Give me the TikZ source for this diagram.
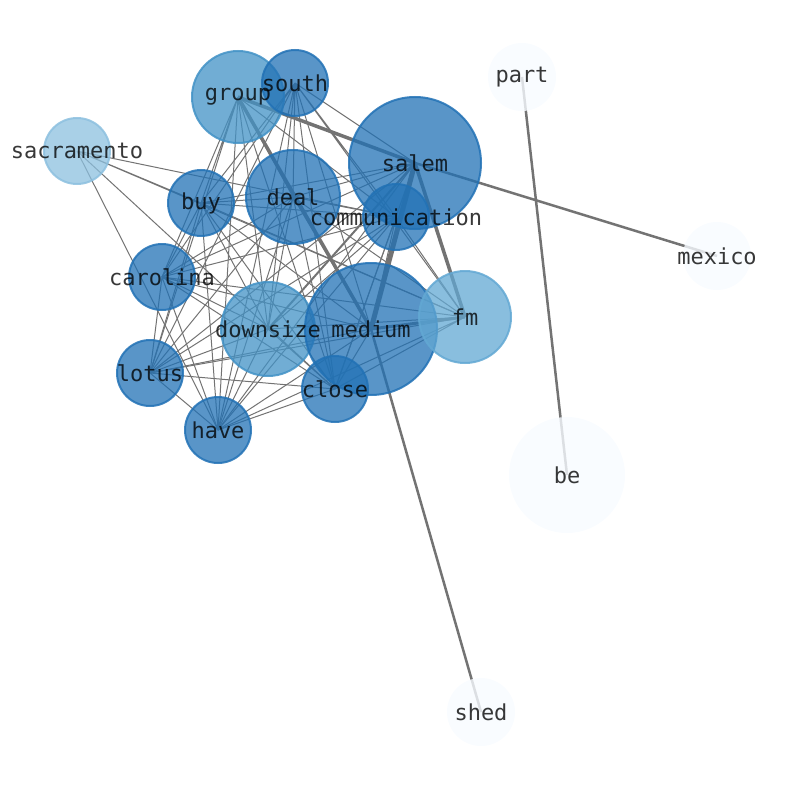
\documentclass[tikz,border=0pt]{standalone}
\usepackage{fontspec}
\setmonofont{DejaVu Sans Mono}
\definecolor{blueA}{HTML}{2171B5}
\definecolor{blueB}{HTML}{4292C6}
\definecolor{blueC}{HTML}{62A8D3}
\definecolor{blueD}{HTML}{8CC0DF}
\definecolor{blueE}{HTML}{F7FBFF}
\tikzset{
  edge/.style={black!55,line width=1bp},
  word/.style={font=\ttfamily\fontsize{22bp}{26bp}\selectfont,text=black,text opacity=0.78,inner sep=0pt},
  blob/.style={fill=#1,fill opacity=0.75,draw=#1,draw opacity=0.85,line width=2bp},
  faint/.style={fill=blueE,fill opacity=0.8}
}

\begin{document}
\begin{tikzpicture}[x=1bp,y=-1bp]
\useasboundingbox (0,0) rectangle (794,790);
% word positions
\coordinate (group) at (238,97);
\coordinate (south) at (295,83);
\coordinate (sacramento) at (77,151);
\coordinate (salem) at (415,163);
\coordinate (deal) at (293,197);
\coordinate (buy) at (201,203);
\coordinate (communication) at (396,217);
\coordinate (carolina) at (162,277);
\coordinate (downsize) at (268,329);
\coordinate (medium) at (371,329);
\coordinate (fm) at (465,317);
\coordinate (lotus) at (150,373);
\coordinate (close) at (335,389);
\coordinate (have) at (218,430);
\coordinate (part) at (522,77);
\coordinate (mexico) at (717,256);
\coordinate (be) at (567,475);
\coordinate (shed) at (481,712);
% thin links
\draw[edge] (sacramento) -- (communication) (sacramento) -- (fm) (sacramento) -- (buy)
  (sacramento) -- (close) (sacramento) -- (have);
\draw[edge] (group) -- (buy) (group) -- (carolina) (group) -- (lotus) (group) -- (have)
  (group) -- (downsize) (group) -- (deal) (group) -- (close) (group) -- (communication);
\draw[edge] (south) -- (buy) (south) -- (carolina) (south) -- (lotus) (south) -- (have)
  (south) -- (downsize) (south) -- (deal) (south) -- (medium) (south) -- (close)
  (south) -- (communication) (south) -- (fm) (south) -- (salem);
\draw[edge] (salem) -- (deal) (salem) -- (buy) (salem) -- (carolina) (salem) -- (lotus)
  (salem) -- (communication) (salem) -- (close) (salem) -- (have);
\draw[edge] (deal) -- (buy) (deal) -- (carolina) (deal) -- (lotus) (deal) -- (have)
  (deal) -- (downsize) (deal) -- (communication) (deal) -- (fm) (deal) -- (close) (deal) -- (medium);
\draw[edge] (buy) -- (carolina) (buy) -- (lotus) (buy) -- (have) (buy) -- (communication)
  (buy) -- (fm) (buy) -- (downsize) (buy) -- (close) (buy) -- (medium);
\draw[edge] (communication) -- (carolina) (communication) -- (lotus) (communication) -- (have)
  (communication) -- (downsize) (communication) -- (close) (communication) -- (medium)
  (communication) -- (fm);
\draw[edge] (carolina) -- (lotus) (carolina) -- (have) (carolina) -- (downsize)
  (carolina) -- (medium) (carolina) -- (fm) (carolina) -- (close);
\draw[edge] (downsize) -- (lotus) (downsize) -- (have) (downsize) -- (fm) (downsize) -- (close);
\draw[edge] (medium) -- (lotus) (medium) -- (have) (medium) -- (close);
\draw[edge] (fm) -- (lotus) (fm) -- (have) (fm) -- (close);
\draw[edge] (lotus) -- (have) (lotus) -- (close) (have) -- (close);
% heavy links
\draw[edge,line width=5bp] (salem) -- (medium);
\draw[edge,line width=3.5bp] (group) -- (medium) (group) -- (salem) (salem) -- (fm);
\draw[edge,line width=3bp] (medium) -- (fm);
\draw[edge,line width=2bp] (salem) -- (downsize);
\draw[edge,line width=2.5bp] (salem) -- (mexico) (part) -- (be) (medium) -- (shed);
% circles
\path[blob=blueB] (group) circle[radius=46bp];
\path[blob=blueA] (south) circle[radius=33bp];
\path[blob=blueD] (sacramento) circle[radius=33bp];
\path[blob=blueA] (salem) circle[radius=66bp];
\path[blob=blueA] (deal) circle[radius=47bp];
\path[blob=blueA] (buy) circle[radius=33bp];
\path[blob=blueA] (communication) circle[radius=33bp];
\path[blob=blueA] (carolina) circle[radius=33bp];
\path[blob=blueB] (downsize) circle[radius=47bp];
\path[blob=blueA] (medium) circle[radius=66bp];
\path[blob=blueC] (fm) circle[radius=46bp];
\path[blob=blueA] (lotus) circle[radius=33bp];
\path[blob=blueA] (close) circle[radius=33bp];
\path[blob=blueA] (have) circle[radius=33bp];
\path[faint] (part) circle[radius=34bp];
\path[faint] (mexico) circle[radius=34bp];
\path[faint] (be) circle[radius=58bp];
\path[faint] (shed) circle[radius=34bp];
% words
\node[word] (t-group) at (group) {group};
\node[word] (t-south) at (south) {south};
\node[word] (t-sacramento) at (sacramento) {sacramento};
\node[word] (t-salem) at (salem) {salem};
\node[word] (t-deal) at (deal) {deal};
\node[word] (t-buy) at (buy) {buy};
\node[word] (t-communication) at (communication) {communication};
\node[word] (t-carolina) at (carolina) {carolina};
\node[word] (t-downsize) at (downsize) {downsize};
\node[word] (t-medium) at (medium) {medium};
\node[word] (t-fm) at (fm) {fm};
\node[word] (t-lotus) at (lotus) {lotus};
\node[word] (t-close) at (close) {close};
\node[word] (t-have) at (have) {have};
\node[word] (t-part) at (part) {part};
\node[word] (t-mexico) at (mexico) {mexico};
\node[word] (t-be) at (be) {be};
\node[word] (t-shed) at (shed) {shed};
\end{tikzpicture}
\end{document}
